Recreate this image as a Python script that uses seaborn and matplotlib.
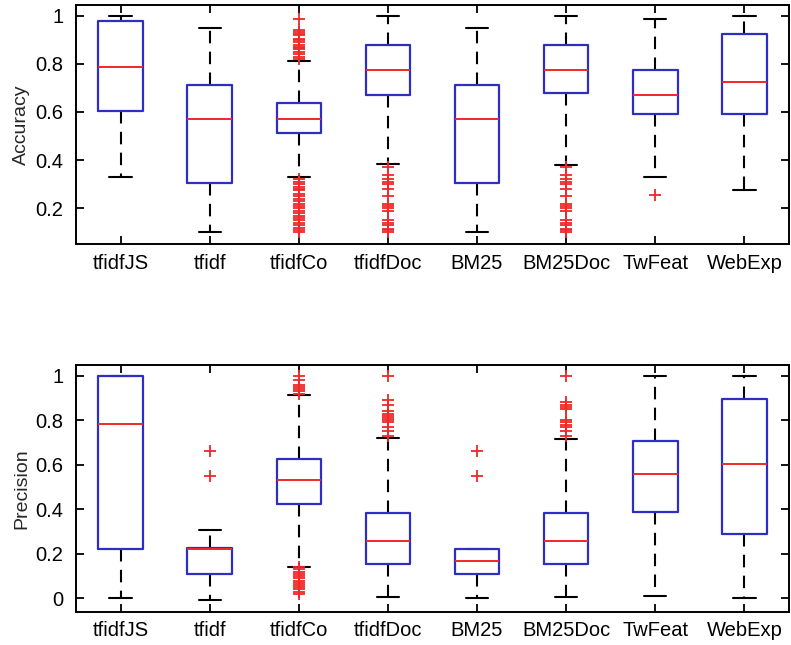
import matplotlib
matplotlib.use("Agg")
import matplotlib.pyplot as plt
import seaborn as sns

methods = ["tfidfJS", "tfidf", "tfidfCo", "tfidfDoc", "BM25", "BM25Doc", "TwFeat", "WebExp"]

# Accuracy box statistics per method
acc_q1 = [0.604, 0.304, 0.513, 0.671, 0.304, 0.678, 0.590, 0.590]
acc_med = [0.788, 0.571, 0.571, 0.775, 0.571, 0.775, 0.672, 0.726]
acc_q3 = [0.979, 0.712, 0.636, 0.877, 0.712, 0.877, 0.775, 0.924]
acc_lo = [0.331, 0.100, 0.331, 0.384, 0.100, 0.380, 0.331, 0.276]
acc_hi = [1.000, 0.950, 0.813, 1.000, 0.950, 1.000, 0.985, 1.000]
acc_out_tfidfCo = [0.986, 0.94, 0.93, 0.925, 0.92, 0.905, 0.90, 0.89, 0.88, 0.87,
                   0.865, 0.86, 0.85, 0.84, 0.83, 0.82,
                   0.32, 0.31, 0.30, 0.29, 0.28, 0.275, 0.26, 0.25, 0.24, 0.23,
                   0.22, 0.21, 0.20, 0.19, 0.18, 0.17, 0.16, 0.15, 0.14, 0.13,
                   0.12, 0.11, 0.10]
acc_out_tfidfDoc = [0.37, 0.34, 0.32, 0.31, 0.30, 0.28, 0.25, 0.22, 0.21, 0.20,
                    0.19, 0.15, 0.14, 0.13, 0.115, 0.11, 0.10]
acc_out_BM25Doc = [0.37, 0.34, 0.32, 0.31, 0.30, 0.28, 0.25, 0.22, 0.21, 0.20,
                   0.19, 0.15, 0.14, 0.13, 0.115, 0.11, 0.10]
acc_out_TwFeat = [0.255]
acc_out = [[], [], acc_out_tfidfCo, acc_out_tfidfDoc, [], acc_out_BM25Doc, acc_out_TwFeat, []]

# Precision box statistics per method
prec_q1 = [0.220, 0.109, 0.425, 0.154, 0.109, 0.154, 0.389, 0.287]
prec_med = [0.781, 0.220, 0.530, 0.257, 0.169, 0.257, 0.558, 0.602]
prec_q3 = [1.000, 0.228, 0.626, 0.382, 0.220, 0.382, 0.707, 0.895]
prec_lo = [0.000, -0.007, 0.139, 0.004, 0.000, 0.004, 0.012, 0.000]
prec_hi = [1.000, 0.307, 0.913, 0.722, 0.220, 0.714, 1.000, 1.000]
prec_out_tfidf = [0.662, 0.551]
prec_out_tfidfCo = [1.0, 0.98, 0.96, 0.95, 0.94, 0.93, 0.92,
                    0.14, 0.13, 0.12, 0.11, 0.10, 0.09, 0.08, 0.07, 0.06,
                    0.05, 0.04, 0.03, 0.02]
prec_out_tfidfDoc = [1.0, 0.89, 0.87, 0.84, 0.83, 0.82, 0.81, 0.80, 0.79, 0.77,
                     0.75, 0.73]
prec_out_BM25 = [0.662, 0.551]
prec_out_BM25Doc = [1.0, 0.88, 0.87, 0.86, 0.85, 0.80, 0.79, 0.78, 0.77, 0.75, 0.73]
prec_out = [[], prec_out_tfidf, prec_out_tfidfCo, prec_out_tfidfDoc, prec_out_BM25,
            prec_out_BM25Doc, [], []]

sns.set_theme(style="ticks")
plt.rcParams["font.family"] = ["Liberation Sans", "DejaVu Sans"]

BLUE = "#2e2ec4"
RED = "#f02828"


def make_stats(q1, med, q3, lo, hi, out):
    return [dict(label=m, q1=a, med=b, q3=c, whislo=d, whishi=e, fliers=f)
            for m, a, b, c, d, e, f in zip(methods, q1, med, q3, lo, hi, out)]


def draw(ax, stats, ylabel, ylim, yticks, yticklabels):
    ax.bxp(stats, positions=range(1, len(stats) + 1), widths=0.5, capwidths=0.25,
           showfliers=True,
           boxprops=dict(color=BLUE, linewidth=1.6, zorder=2.5),
           medianprops=dict(color=RED, linewidth=1.4, zorder=2.6),
           whiskerprops=dict(color="black", linewidth=1.5, linestyle=(0, (6, 4)),
                             zorder=2),
           capprops=dict(color="black", linewidth=1.5, zorder=2),
           flierprops=dict(marker="+", markeredgecolor=RED, markersize=9,
                           markeredgewidth=1.3, linestyle="none", zorder=3))
    ax.set_xlim(0.5, 8.5)
    ax.set_ylim(*ylim)
    ax.set_yticks(yticks)
    ax.set_yticklabels(yticklabels)
    ax.set_xticks(range(1, len(methods) + 1))
    ax.set_xticklabels(methods)
    ax.set_ylabel(ylabel, fontsize=14, labelpad=4)
    ax.tick_params(axis="both", direction="in", length=6, width=1.3, labelsize=14.5,
                   top=True, right=True, colors="black")
    ax.tick_params(axis="x", pad=7)
    ax.tick_params(axis="y", pad=9)
    for s in ax.spines.values():
        s.set_visible(True)
        s.set_color("black")
        s.set_linewidth(1.4)


fig = plt.figure(figsize=(7.91, 6.45), dpi=100)
ax1 = fig.add_axes([0.0961, 0.6217, 0.9013, 0.3705])
ax2 = fig.add_axes([0.0961, 0.0516, 0.9013, 0.3825])

draw(ax1, make_stats(acc_q1, acc_med, acc_q3, acc_lo, acc_hi, acc_out),
     "Accuracy", (0.052, 1.044), [0.2, 0.4, 0.6, 0.8, 1.0],
     ["0.2", "0.4", "0.6", "0.8", "1"])
draw(ax2, make_stats(prec_q1, prec_med, prec_q3, prec_lo, prec_hi, prec_out),
     "Precision", (-0.060, 1.048), [0, 0.2, 0.4, 0.6, 0.8, 1.0],
     ["0", "0.2", "0.4", "0.6", "0.8", "1"])

fig.savefig("out.png", dpi=100, facecolor="white")
